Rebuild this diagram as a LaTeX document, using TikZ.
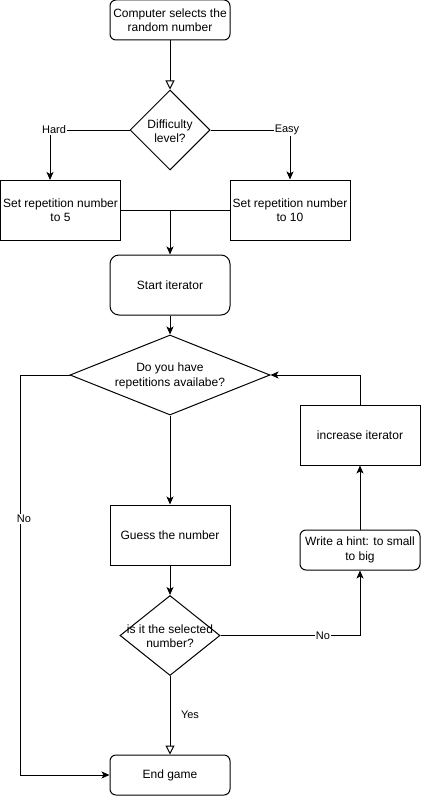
\documentclass[tikz,border=0pt]{standalone}
\usepackage{fontspec}
\setmainfont{Liberation Sans}
\usetikzlibrary{shapes.geometric,arrows.meta}
\begin{document}
\begin{tikzpicture}[x=1pt,y=-1pt,
  every node/.style={font=\fontsize{12}{14.5}\selectfont, align=center},
  box/.style={draw, line width=1pt, inner sep=0pt, minimum width=120pt},
  rbox/.style={box, rounded corners=6pt},
  diam/.style={draw, line width=1pt, diamond, inner sep=0pt},
  txt/.style={inner sep=0pt},
  lbl/.style={font=\fontsize{11}{13}\selectfont, fill=white, inner sep=1pt},
  con/.style={line width=1pt},
  arr/.style={con, -{Stealth[length=8pt,width=7pt,inset=2pt]}},
  oarr/.style={con, -{Triangle[open,length=9pt,width=9pt,fill=white]}}]
\useasboundingbox (0,0) rectangle (421,797);

\node[rbox, minimum height=40pt] (top) at (170,20) {Computer selects the\\random number};
\node[diam, minimum width=80pt, minimum height=80pt] (d1) at (170,130) {};
\node[txt] (d1t) at (170,131) {Difficulty\\level?};
\node[box, minimum height=60pt] (b5) at (60.5,210) {Set repetition number\\to 5};
\node[box, minimum height=60pt] (b10) at (290,210) {Set repetition number\\to 10};
\node[rbox, rounded corners=9pt, minimum height=60pt] (start) at (170,285) {Start iterator};
\node[diam, minimum width=200pt, minimum height=80pt] (d2) at (170,375) {};
\node[txt] (d2t) at (170,376) {Do you have\\repetitions availabe?};
\node[box, minimum height=60pt] (guess) at (170,535) {Guess the number};
\node[diam, minimum width=100pt, minimum height=80pt] (d3) at (170,635.5) {};
\node[txt] (d3t) at (170,636) {is it the selected\\number?};
\node[rbox, minimum height=40pt] (endg) at (170,775) {End game};
\node[rbox, minimum height=40pt] (hint) at (360,550) {Write a hint: to small\\to big};
\node[box, minimum height=60pt] (inc) at (360,435) {increase iterator};

\coordinate (j) at (170,210);
\coordinate (lft) at (20.5,375);
\coordinate (hx) at (50,180);

\draw[oarr] (top.south) -- (d1.north);
\draw[arr] (d1.west) -| (hx);
\node[lbl] (hard) at (54,130) {Hard};
\draw[arr] (d1.east) -| (b10.north);
\node[lbl] (easy) at (287,130) {Easy};
\draw[con] (b5.east) -- (b10.west);
\draw[arr] (j) -- (start.north);
\draw[arr] (start.south) -- (d2.north);
\draw[arr] (d2.west) -- (lft) |- (endg.west);
\node[lbl] (no1) at (24,519) {No};
\draw[arr] (d2.south) -- (guess.north);
\draw[arr] (guess.south) -- (d3.north);
\draw[oarr] (d3.south) -- (endg.north);
\node[lbl, fill=none] (yes) at (190,715) {Yes};
\draw[arr] (d3.east) -| (hint.south);
\node[lbl] (no2) at (323,635.5) {No};
\draw[arr] (hint.north) -- (inc.south);
\draw[arr] (inc.north) |- (d2.east);
\end{tikzpicture}
\end{document}
